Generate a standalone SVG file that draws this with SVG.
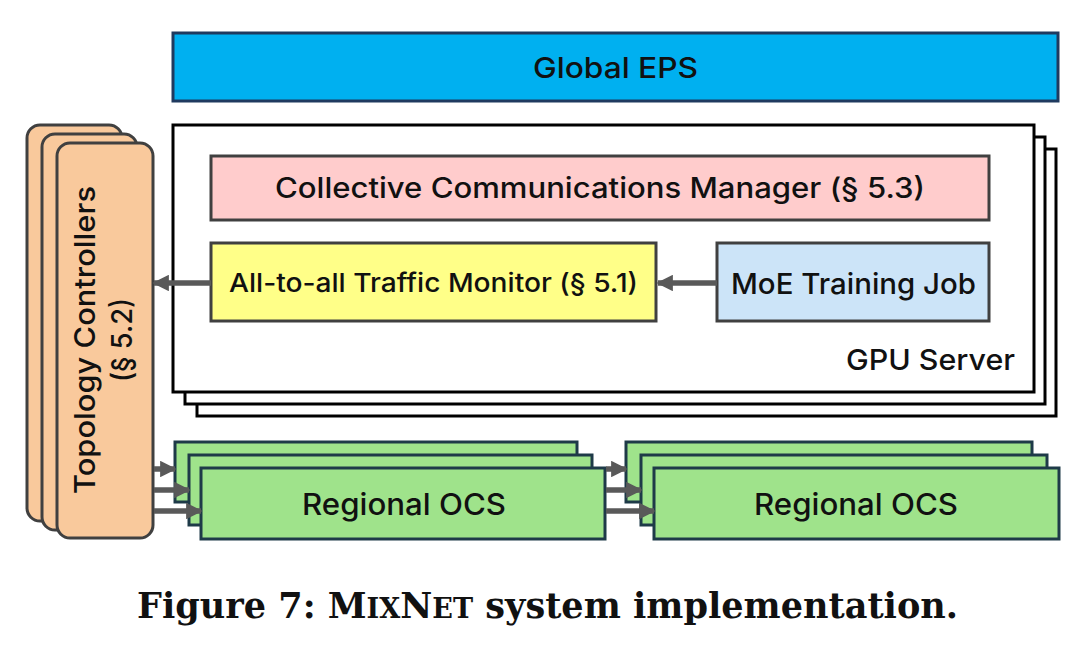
<svg xmlns="http://www.w3.org/2000/svg" width="1080" height="659" viewBox="0 0 1080 659">
<defs>
<style>
.lbl{font-family:Inter,"Open Sans","Liberation Sans",sans-serif;font-weight:500;fill:#111;text-anchor:middle;}
.srv{fill:#fff;stroke:#000;stroke-width:3;}
.ocs{fill:#9fe38b;stroke:#1e3a48;stroke-width:3;}
.tc{fill:#f9c99c;stroke:#404040;stroke-width:3;}
.conn{stroke:#595959;stroke-width:5.5;fill:none;marker-end:url(#ah);}
</style>
<marker id="ah" viewBox="0 0 10 10" refX="9" refY="5" markerWidth="3" markerHeight="3" orient="auto" markerUnits="strokeWidth">
<path d="M0,0 L10,5 L0,10 z" fill="#595959"/>
</marker>
</defs>
<rect width="1080" height="659" fill="#fff"/>

<g id="global-eps">
<rect x="173" y="33" width="885" height="68" fill="#00b0f0" stroke="#1f3a5f" stroke-width="3"/>
<text class="lbl" x="615.5" y="78" font-size="29" textLength="165" lengthAdjust="spacingAndGlyphs">Global EPS</text>
</g>

<g id="gpu-server">
<rect class="srv" x="197" y="149" width="859" height="267"/>
<rect class="srv" x="185" y="137" width="860" height="267"/>
<rect class="srv" x="173" y="125" width="861" height="267"/>
<text class="lbl" x="930.5" y="370" font-size="29" textLength="169" lengthAdjust="spacingAndGlyphs">GPU Server</text>
</g>

<g id="ccm">
<rect x="211" y="156" width="778" height="64" fill="#ffcccc" stroke="#404040" stroke-width="3"/>
<text class="lbl" x="600" y="198" font-size="28" textLength="650" lengthAdjust="spacingAndGlyphs">Collective Communications Manager (§ 5.3)</text>
</g>

<g id="monitor">
<rect x="211" y="243" width="445" height="78" fill="#ffff88" stroke="#404040" stroke-width="3"/>
<text class="lbl" x="433.5" y="292" font-size="26" textLength="409" lengthAdjust="spacingAndGlyphs">All-to-all Traffic Monitor (§ 5.1)</text>
</g>

<g id="moe">
<rect x="717" y="243" width="272" height="78" fill="#cce4f8" stroke="#404040" stroke-width="3"/>
<text class="lbl" x="853.5" y="294" font-size="29" textLength="245" lengthAdjust="spacingAndGlyphs">MoE Training Job</text>
</g>

<g id="topology">
<rect class="tc" x="27" y="125" width="95" height="396" rx="13"/>
<rect class="tc" x="42" y="134" width="95" height="396" rx="13"/>
<rect class="tc" x="57" y="143" width="96" height="395" rx="13"/>
<text class="lbl" transform="translate(95,340) rotate(-90)" font-size="29" textLength="308" lengthAdjust="spacingAndGlyphs">Topology Controllers</text>
<text class="lbl" transform="translate(132,340) rotate(-90)" font-size="29" textLength="84" lengthAdjust="spacingAndGlyphs">(§ 5.2)</text>
</g>

<g id="ocs-1">
<rect class="ocs" x="175" y="442" width="402" height="60"/>
<rect class="ocs" x="189" y="455" width="403" height="70"/>
<rect class="ocs" x="201" y="468" width="404" height="71"/>
<text class="lbl" x="404" y="515" font-size="30" textLength="204" lengthAdjust="spacingAndGlyphs">Regional OCS</text>
</g>

<g id="ocs-2">
<rect class="ocs" x="626" y="442" width="406" height="60"/>
<rect class="ocs" x="641" y="455" width="406" height="70"/>
<rect class="ocs" x="654" y="468" width="405" height="71"/>
<text class="lbl" x="856" y="515" font-size="30" textLength="204" lengthAdjust="spacingAndGlyphs">Regional OCS</text>
</g>

<g id="connectors">
<line class="conn" x1="717" y1="283" x2="658" y2="283"/>
<line class="conn" x1="211" y1="283" x2="154" y2="283"/>
<line class="conn" x1="154" y1="469" x2="175" y2="469"/>
<line class="conn" x1="154" y1="490" x2="189" y2="490"/>
<line class="conn" x1="154" y1="511" x2="201" y2="511"/>
<line class="conn" x1="606" y1="469" x2="626" y2="469"/>
<line class="conn" x1="606" y1="490" x2="641" y2="490"/>
<line class="conn" x1="606" y1="511" x2="654" y2="511"/>
</g>

<text x="547.5" y="618" font-family="DejaVu Serif, Liberation Serif, serif" font-weight="bold" font-size="35" fill="#111" text-anchor="middle" textLength="821" lengthAdjust="spacingAndGlyphs">Figure 7: M<tspan font-size="27">IX</tspan>N<tspan font-size="27">ET</tspan> system implementation.</text>
</svg>
